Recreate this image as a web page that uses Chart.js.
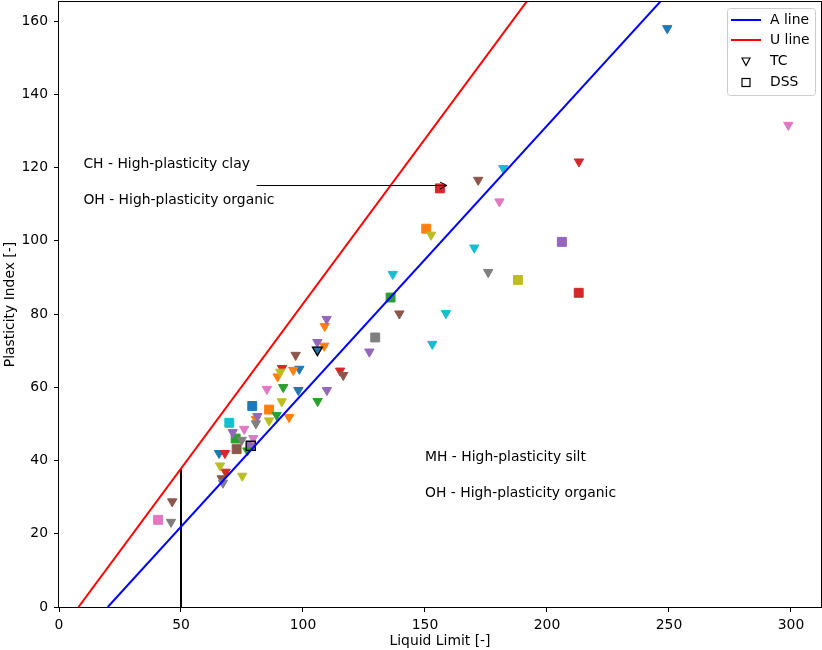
<!DOCTYPE html>
<html>
<head>
<meta charset="utf-8">
<script src="https://cdn.jsdelivr.net/npm/chart.js@4"></script>
<style>
    html, body { margin: 0; padding: 0; background: #fff; }
    #wrap { width: 822px; height: 650px; }
</style>
</head>
<body>
<div id="wrap"><canvas id="plasticityChart" width="822" height="650"></canvas></div>
<script>
const palette = ['#1f77b4', '#ff7f0e', '#2ca02c', '#d62728', '#9467bd', '#8c564b', '#e377c2', '#7f7f7f', '#bcbd22', '#17becf'];

// TC samples (triangles), colour = index into palette
const tcLL = [65.6, 98.5, 98.1, 105.9, 249.3,
    89.6, 96.0, 94.3, 108.7, 108.9, 80.7,
    91.9, 89.2, 106.0, 77.2,
    68.0, 68.3, 91.4, 115.2, 213.1,
    71.2, 81.3, 109.8, 105.9, 109.7, 127.2,
    46.4, 66.7, 97.0, 116.5, 139.5, 171.8,
    75.9, 79.6, 85.2, 180.5, 298.9,
    45.9, 67.2, 74.9, 80.7, 175.9,
    66.0, 75.1, 86.1, 91.3, 90.7, 152.5,
    136.8, 158.6, 153.0, 170.2, 182.1];
const tcPI = [42.0, 65.0, 59.2, 70.2, 158.0,
    62.9, 64.7, 51.8, 71.3, 76.7, 51.3,
    60.0, 52.4, 56.2, 42.7,
    42.0, 36.9, 65.2, 64.5, 121.6,
    47.7, 52.1, 59.2, 72.3, 78.6, 69.7,
    28.8, 35.1, 68.8, 63.3, 80.1, 116.6,
    48.6, 46.1, 59.5, 110.7, 131.6,
    23.2, 33.9, 45.6, 50.1, 91.4,
    38.6, 35.8, 50.9, 56.1, 64.2, 101.6,
    90.9, 80.2, 71.8, 98.1, 119.8];
const tcColor = [0, 0, 0, 0, 0,
    1, 1, 1, 1, 1, 1,
    2, 2, 2, 2,
    3, 3, 3, 3, 3,
    4, 4, 4, 4, 4, 4,
    5, 5, 5, 5, 5, 5,
    6, 6, 6, 6, 6,
    7, 7, 7, 7, 7,
    8, 8, 8, 8, 8, 8,
    9, 9, 9, 9, 9];

// DSS samples (squares)
const dssLL = [40.6, 72.8, 78.6, 72.4, 69.8, 79.2, 86.1, 129.6, 135.9, 150.5, 156.1, 206.1, 188.1, 213.0];
const dssPI = [23.8, 43.1, 44.0, 46.0, 50.3, 54.9, 53.9, 73.6, 84.5, 103.3, 114.3, 99.7, 89.3, 85.8];
const dssColor = [6, 5, 4, 2, 9, 0, 1, 7, 2, 1, 3, 4, 8, 3];

// marker handles for the legend
const tcMarkLL = [105.9];
const tcMarkPI = [70.2];
const dssMarkLL = [78.6];
const dssMarkPI = [44.0];

// reference lines
const aLineLL = [20, 250];
const aLinePI = [0, 167.9];
const uLineLL = [8, 200];
const uLinePI = [0, 172.8];
const llLimitLL = [50, 50];
const llLimitPI = [0, 37.8];

const xTicks = [0, 50, 100, 150, 200, 250, 300];
const yTicks = [0, 20, 40, 60, 80, 100, 120, 140, 160];

const zoneLabels = ['CH - High-plasticity clay', 'OH - High-plasticity organic', 'MH - High-plasticity silt', 'OH - High-plasticity organic'];
const zoneLL = [10, 10, 150, 150];
const zonePI = [120, 110, 40, 30];
const arrowLL = [81, 159];
const arrowPI = [115.2, 115.2];

const FONT = '13.9px "DejaVu Sans"';

function toPoints(xs, ys) {
    return xs.map((x, i) => ({ x: x, y: ys[i] }));
}

const framePlugin = {
    id: 'frame',
    afterDatasetsDraw(chart) {
        const { ctx, chartArea: a, scales } = chart;
        const x = scales.x, y = scales.y;
        ctx.save();

        // arrow
        const x0 = x.getPixelForValue(arrowLL[0]), x1 = x.getPixelForValue(arrowLL[1]);
        const ya = Math.round(y.getPixelForValue(arrowPI[0])) + 0.5;
        ctx.strokeStyle = '#000';
        ctx.lineWidth = 1;
        ctx.beginPath();
        ctx.moveTo(x0, ya);
        ctx.lineTo(x1, ya);
        ctx.moveTo(x1 - 7, ya - 3.5);
        ctx.lineTo(x1, ya);
        ctx.lineTo(x1 - 7, ya + 3.5);
        ctx.stroke();

        // zone labels
        ctx.fillStyle = '#000';
        ctx.font = FONT;
        ctx.textAlign = 'left';
        ctx.textBaseline = 'alphabetic';
        zoneLabels.forEach((t, i) => {
            ctx.fillText(t, x.getPixelForValue(zoneLL[i]), y.getPixelForValue(zonePI[i]));
        });

        // axes box
        ctx.strokeStyle = '#000';
        ctx.lineWidth = 1;
        ctx.strokeRect(Math.round(a.left) - 0.5, Math.round(a.top) - 0.5,
            Math.round(a.right - a.left) + 1, Math.round(a.bottom - a.top) + 1);

        // legend
        const lx = 727, ly = 8, lw = 88, lh = 87;
        ctx.fillStyle = 'rgba(255,255,255,0.8)';
        ctx.strokeStyle = '#cccccc';
        ctx.beginPath();
        ctx.roundRect(lx + 0.5, ly + 0.5, lw, lh, 3);
        ctx.fill();
        ctx.stroke();

        const rows = [20, 40, 61.5, 82.5];
        const names = ['A line', 'U line', 'TC', 'DSS'];
        ctx.lineWidth = 2;
        ctx.strokeStyle = 'blue';
        ctx.beginPath(); ctx.moveTo(731, rows[0]); ctx.lineTo(761, rows[0]); ctx.stroke();
        ctx.strokeStyle = 'red';
        ctx.beginPath(); ctx.moveTo(731, rows[1]); ctx.lineTo(761, rows[1]); ctx.stroke();
        ctx.strokeStyle = '#000';
        ctx.lineWidth = 1.2;
        ctx.beginPath();
        ctx.moveTo(742, rows[2] - 3.5); ctx.lineTo(750, rows[2] - 3.5); ctx.lineTo(746, rows[2] + 4); ctx.closePath();
        ctx.stroke();
        ctx.strokeRect(742, rows[3] - 4, 8, 8);

        ctx.fillStyle = '#000';
        ctx.textBaseline = 'middle';
        names.forEach((n, i) => ctx.fillText(n, 770, rows[i]));
        ctx.restore();
    }
};

const ctx = document.getElementById('plasticityChart').getContext('2d');

new Chart(ctx, {
    type: 'scatter',
    data: {
        datasets: [
            {
                label: 'A line',
                data: toPoints(aLineLL, aLinePI),
                showLine: true,
                borderColor: 'blue',
                borderWidth: 2,
                pointRadius: 0,
                order: 0
            },
            {
                label: 'U line',
                data: toPoints(uLineLL, uLinePI),
                showLine: true,
                borderColor: 'red',
                borderWidth: 2,
                pointRadius: 0,
                order: 0
            },
            {
                label: 'LL = 50',
                data: toPoints(llLimitLL, llLimitPI),
                showLine: true,
                borderColor: '#000',
                borderWidth: 2,
                pointRadius: 0,
                order: 0
            },
            {
                label: 'TC',
                data: toPoints(tcMarkLL, tcMarkPI),
                pointStyle: 'triangle',
                pointRotation: 180,
                pointRadius: 5.7,
                backgroundColor: 'rgba(0,0,0,0)',
                borderColor: '#000',
                borderWidth: 1.3,
                order: 1
            },
            {
                label: 'DSS',
                data: toPoints(dssMarkLL, dssMarkPI),
                pointStyle: 'rect',
                pointRadius: 6.5,
                backgroundColor: 'rgba(0,0,0,0)',
                borderColor: '#000',
                borderWidth: 1.3,
                order: 1
            },
            {
                label: 'TC samples',
                data: toPoints(tcLL, tcPI),
                pointStyle: 'triangle',
                pointRotation: 180,
                pointRadius: 5.4,
                backgroundColor: tcColor.map(c => palette[c]),
                borderColor: tcColor.map(c => palette[c]),
                borderWidth: 1,
                order: 2
            },
            {
                label: 'DSS samples',
                data: toPoints(dssLL, dssPI),
                pointStyle: 'rect',
                pointRadius: 6.3,
                backgroundColor: dssColor.map(c => palette[c]),
                borderColor: dssColor.map(c => palette[c]),
                borderWidth: 1,
                order: 2
            }
        ]
    },
    options: {
        responsive: false,
        animation: false,
        devicePixelRatio: 1,
        events: [],
        layout: { autoPadding: false, padding: { top: 2, right: 1, left: 0, bottom: 0 } },
        plugins: {
            legend: { display: false },
            tooltip: { enabled: false }
        },
        scales: {
            x: {
                type: 'linear',
                min: 0,
                max: 312.3,
                afterBuildTicks: (scale) => { scale.ticks = xTicks.map(v => ({ value: v })); },
                afterFit: (scale) => { scale.height = 43; scale.paddingLeft = 0; scale.paddingRight = 0; },
                grid: { display: true, drawOnChartArea: false, drawTicks: true, tickLength: 5, color: '#000' },
                border: { display: false },
                ticks: { color: '#000', padding: 5, maxRotation: 0, font: { family: 'DejaVu Sans', size: 13.9 } },
                title: {
                    display: true,
                    text: 'Liquid Limit [-]',
                    color: '#000',
                    padding: { top: 0, bottom: 0 },
                    font: { family: 'DejaVu Sans', size: 13.9 }
                }
            },
            y: {
                type: 'linear',
                min: 0,
                max: 165.2,
                afterBuildTicks: (scale) => { scale.ticks = yTicks.map(v => ({ value: v })); },
                afterFit: (scale) => { scale.width = 59; scale.paddingTop = 0; scale.paddingBottom = 0; },
                grid: { display: true, drawOnChartArea: false, drawTicks: true, tickLength: 5, color: '#000' },
                border: { display: false },
                ticks: { color: '#000', padding: 6, font: { family: 'DejaVu Sans', size: 13.9 } },
                title: {
                    display: true,
                    text: 'Plasticity Index [-]',
                    color: '#000',
                    padding: { top: 2, bottom: 0 },
                    font: { family: 'DejaVu Sans', size: 13.9 }
                }
            }
        }
    },
    plugins: [framePlugin]
});
</script>
</body>
</html>
